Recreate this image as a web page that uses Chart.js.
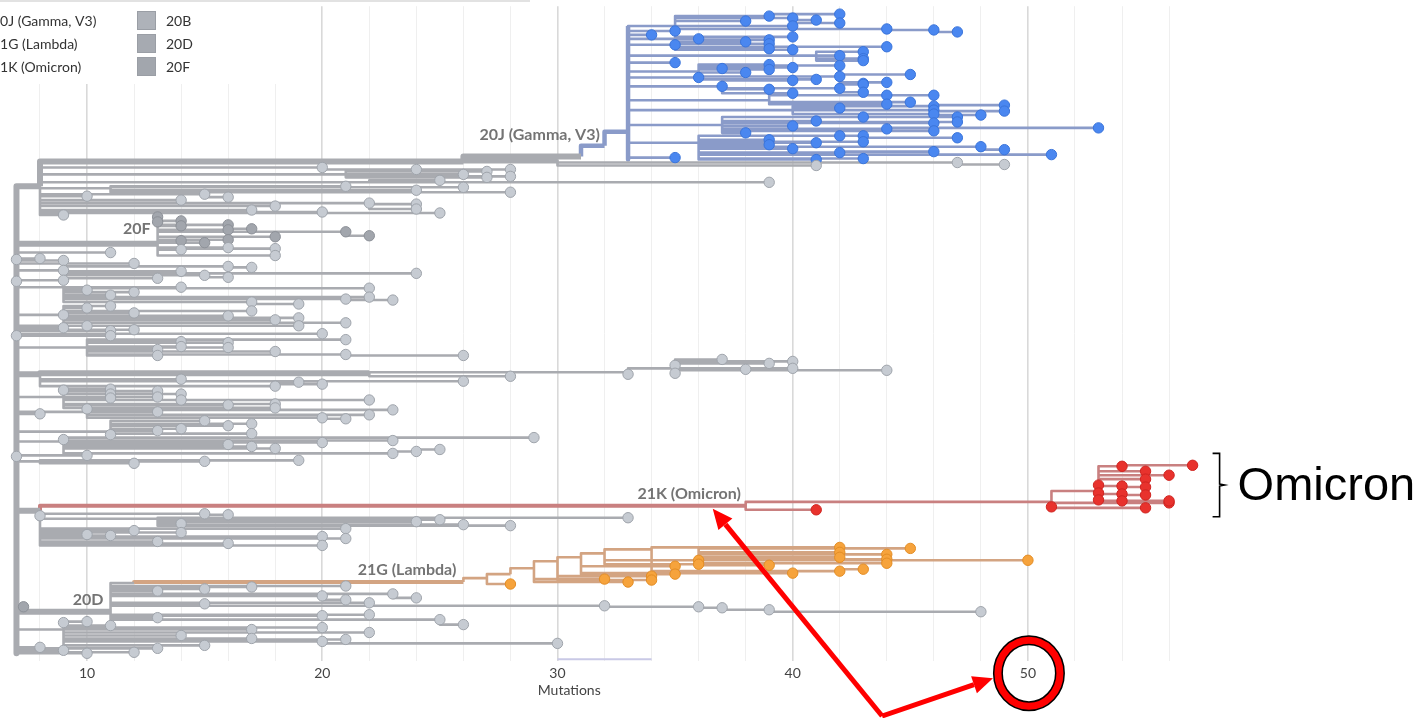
<!DOCTYPE html>
<html>
<head>
<meta charset="utf-8">
<script src="https://cdn.jsdelivr.net/npm/chart.js@4.4.1/dist/chart.umd.min.js"></script>
<style>
  html, body { margin: 0; padding: 0; background: #fff; }
  #wrap { width: 1420px; height: 718px; position: relative; }
</style>
</head>
<body>
<div id="wrap"><canvas id="tree"></canvas></div>
<script>
// grid every 2 mutations, labels only on the tens
const gridTicks = [8, 10, 12, 14, 16, 18, 20, 22, 24, 26, 28, 30, 32, 34, 36, 38, 40, 42, 44, 46, 48, 50, 52, 54, 56];
const labelledTicks = [10, 20, 30, 40, 50];
const axisTitle = 'Mutations';

const legendLeft = ['20J (Gamma, V3)', '21G (Lambda)', '21K (Omicron)'];
const legendRight = ['20B', '20D', '20F'];

// edges: [from mutations, to mutations, row, parent row, is tip]
const grayTrunk = [
  [7, 7, 654, 182, 0], [7, 8, 182, 182, 0], [8, 26, 157, 182, 0], [26, 30, 156, 157, 0],
  [26, 31, 152, 156, 0], [7, 13, 240, 182, 0], [7, 8, 372, 182, 0], [8, 22, 371, 372, 0],
  [7, 9, 612, 182, 0], [9, 11, 612, 612, 0], [7, 8, 510, 182, 0]
];

const grayEdges = [
  // top block
  [30, 41, 161, 156, 1], [30, 47, 158, 156, 1], [47, 49, 160, 158, 1],
  [8, 10, 163, 182, 0], [10, 20, 163, 163, 1], [20, 24, 165, 163, 1],
  [8, 21, 170, 182, 0], [21, 26, 170, 170, 1], [21, 27, 167, 170, 1], [21, 28, 165, 170, 1],
  [21, 27, 173, 170, 1], [21, 28, 172, 170, 1],
  [8, 22, 178, 182, 0], [22, 25, 176, 178, 1], [22, 39, 178, 178, 1],
  [8, 11, 184, 182, 0], [11, 21, 182, 184, 1], [11, 24, 186, 184, 1], [11, 26, 183, 184, 1], [11, 28, 188, 184, 1],
  [8, 10, 192, 182, 1], [8, 15, 190, 182, 1], [15, 16, 193, 190, 1], [8, 14, 196, 182, 1],
  [8, 22, 199, 182, 1], [22, 24, 200, 199, 1], [22, 24, 205, 199, 1],
  [8, 18, 202, 182, 1], [8, 17, 206, 182, 1], [8, 20, 208, 182, 1], [8, 25, 209, 182, 1], [8, 9, 211, 182, 1],
  [13, 14, 246, 240, 1], [13, 16, 244, 240, 1], [13, 18, 245, 240, 1], [13, 18, 252, 240, 1],
  // block under 20F
  [7, 7, 256, 182, 1], [7, 8, 255, 182, 1], [7, 9, 257, 182, 1], [7, 11, 249, 182, 1], [7, 12, 260, 182, 1],
  [7, 9, 267, 182, 1], [9, 14, 268, 267, 1], [9, 16, 263, 267, 1], [16, 17, 264, 263, 1],
  [9, 15, 272, 267, 1], [15, 16, 274, 272, 1], [9, 13, 275, 267, 1], [9, 24, 270, 267, 1],
  [7, 7, 278, 182, 1], [7, 9, 277, 182, 1],
  [7, 9, 284, 182, 0], [9, 14, 284, 284, 1], [9, 10, 287, 284, 1], [9, 12, 289, 284, 1], [9, 11, 292, 284, 1],
  [9, 22, 285, 284, 1], [9, 22, 294, 284, 1], [9, 21, 296, 284, 1], [21, 23, 297, 296, 1],
  [9, 17, 299, 284, 1], [17, 19, 301, 299, 1],
  [7, 9, 312, 182, 1], [9, 10, 305, 312, 1], [9, 11, 303, 312, 1], [9, 12, 310, 312, 1], [9, 16, 313, 312, 1],
  [9, 17, 308, 312, 1], [9, 18, 317, 312, 1], [9, 19, 315, 312, 1], [9, 21, 320, 312, 1], [9, 19, 323, 312, 1],
  [7, 9, 325, 182, 1], [7, 10, 323, 182, 1], [7, 12, 327, 182, 1], [7, 11, 328, 182, 1], [7, 11, 333, 182, 1],
  [7, 20, 331, 182, 1], [7, 7, 333, 182, 1],
  [7, 10, 345, 182, 0], [10, 14, 339, 345, 1], [10, 14, 344, 345, 1], [10, 16, 340, 345, 1], [10, 16, 345, 345, 1],
  [10, 21, 337, 345, 1], [10, 13, 347, 345, 1], [10, 13, 353, 345, 1], [10, 18, 349, 345, 1],
  [10, 21, 352, 345, 1], [21, 26, 353, 352, 1],
  // long branch reaching 44
  [22, 28, 374, 371, 1], [22, 33, 370, 371, 0], [33, 33, 372, 370, 1], [33, 35, 366, 370, 0],
  [35, 35, 363, 366, 1], [35, 35, 371, 366, 1], [35, 37, 357, 366, 1], [35, 40, 359, 366, 1],
  [35, 39, 361, 366, 1], [35, 40, 366, 366, 1], [35, 38, 367, 366, 1], [35, 44, 368, 366, 1],
  [8, 14, 377, 372, 1], [8, 26, 379, 372, 1], [8, 18, 384, 372, 1], [18, 19, 380, 384, 1], [18, 20, 382, 384, 1],
  // middle block
  [7, 9, 395, 182, 0], [9, 9, 388, 395, 1], [9, 11, 387, 395, 1], [9, 11, 392, 395, 1], [9, 11, 396, 395, 1],
  [9, 13, 389, 395, 1], [9, 13, 395, 395, 1], [9, 14, 392, 395, 1], [9, 14, 398, 395, 1], [9, 22, 398, 395, 1],
  [9, 16, 403, 395, 1], [9, 18, 402, 395, 1], [9, 18, 406, 395, 1],
  [7, 8, 412, 182, 1],
  [7, 10, 410, 182, 0], [10, 10, 407, 410, 1], [10, 13, 410, 410, 1], [10, 23, 408, 410, 1],
  [10, 20, 416, 410, 1], [20, 21, 417, 416, 1], [10, 22, 413, 410, 1],
  [7, 11, 430, 182, 0], [11, 15, 419, 430, 1], [11, 16, 424, 430, 1], [11, 17, 422, 430, 1], [11, 17, 432, 430, 1],
  [11, 11, 433, 430, 1], [11, 13, 429, 430, 1], [11, 14, 427, 430, 1],
  [7, 9, 440, 182, 0], [9, 9, 438, 440, 1], [9, 20, 441, 440, 1], [9, 23, 439, 440, 1], [9, 29, 436, 440, 1],
  [9, 16, 443, 440, 1], [9, 17, 445, 440, 1], [9, 18, 447, 440, 1],
  [9, 23, 452, 440, 1], [23, 24, 450, 452, 1], [24, 25, 448, 450, 1],
  [7, 7, 455, 182, 1], [7, 10, 454, 182, 1],
  [7, 8, 460, 182, 0], [8, 12, 462, 460, 1], [8, 15, 460, 460, 1], [8, 19, 459, 460, 1],
  // under the Omicron branch
  [8, 8, 515, 510, 1], [8, 15, 513, 510, 1], [15, 16, 514, 513, 1],
  [8, 13, 518, 510, 0], [13, 14, 523, 518, 1], [13, 24, 521, 518, 1], [13, 25, 519, 518, 1],
  [13, 26, 524, 518, 1], [13, 28, 525, 518, 1], [13, 33, 517, 518, 1],
  [8, 10, 534, 510, 1], [8, 11, 535, 510, 1], [8, 12, 530, 510, 1], [8, 14, 532, 510, 1],
  [8, 21, 528, 510, 1], [8, 21, 538, 510, 1], [8, 13, 541, 510, 1], [8, 16, 543, 510, 1],
  [8, 20, 536, 510, 1], [8, 20, 545, 510, 1],
  // 20D
  [11, 12, 583, 612, 0],
  [11, 13, 591, 612, 1], [11, 15, 589, 612, 1], [11, 17, 587, 612, 1], [11, 21, 586, 612, 1],
  [11, 20, 596, 612, 1], [20, 21, 600, 596, 1], [11, 23, 594, 612, 1], [23, 24, 598, 594, 1], [11, 22, 603, 612, 1],
  [11, 15, 604, 612, 1],
  [11, 32, 606, 612, 1], [32, 36, 607, 606, 1], [36, 37, 608, 607, 1], [37, 39, 610, 608, 1], [39, 48, 612, 610, 1],
  [11, 13, 618, 612, 1], [11, 20, 616, 612, 1], [11, 22, 615, 612, 1], [11, 25, 620, 612, 1], [25, 26, 625, 620, 1],
  // bottom block
  [7, 9, 630, 182, 0], [9, 9, 623, 630, 1], [9, 10, 622, 630, 1], [9, 11, 626, 630, 1],
  [9, 17, 630, 630, 1], [9, 20, 628, 630, 1], [9, 14, 636, 630, 1], [9, 17, 639, 630, 1], [9, 21, 640, 630, 1],
  [9, 22, 633, 630, 1], [9, 20, 642, 630, 1], [20, 30, 644, 642, 1], [9, 15, 646, 630, 1],
  [7, 8, 648, 182, 1], [7, 9, 651, 182, 1], [7, 10, 654, 182, 1], [7, 12, 653, 182, 1], [7, 13, 649, 182, 1]
];

const darkEdges = [
  [13, 13, 213, 240, 1], [13, 13, 218, 240, 1], [13, 14, 217, 240, 1], [13, 14, 222, 240, 1],
  [13, 16, 221, 240, 1], [13, 16, 226, 240, 1], [16, 17, 225, 226, 1], [13, 21, 228, 240, 1],
  [21, 22, 232, 228, 1], [13, 18, 233, 240, 1], [13, 14, 237, 240, 1], [13, 15, 239, 240, 1],
  [13, 16, 236, 240, 1], [7, 7.3, 607, 182, 1]
];

const gammaTrunk = [
  [31, 32, 141, 152, 0], [32, 33, 127, 141, 0], [33, 33, 20, 127, 0], [33, 33, 155, 127, 0]
];

const gammaEdges = [
  [33, 35, 20, 127, 0], [35, 39, 10, 20, 1], [39, 42, 8, 10, 1], [35, 38, 15, 20, 1], [35, 40, 12, 20, 1],
  [40, 41, 14, 12, 1], [40, 42, 17, 12, 1], [35, 40, 20, 20, 1], [35, 44, 23, 20, 1], [44, 46, 24, 23, 1], [46, 47, 26, 24, 1],
  [33, 34, 29, 127, 1], [33, 35, 25, 127, 1], [33, 35, 39, 127, 1],
  [33, 35, 33, 127, 0], [35, 36, 33, 33, 1], [35, 38, 36, 33, 1], [36, 39, 34, 33, 1], [35, 39, 38, 33, 1],
  [35, 39, 43, 33, 1], [35, 40, 31, 33, 1], [35, 40, 44, 33, 1], [35, 44, 41, 33, 1],
  [33, 41, 50, 127, 0], [41, 42, 50, 50, 1], [41, 43, 46, 50, 1], [41, 43, 53, 50, 1], [41, 43, 55, 50, 1],
  [33, 35, 57, 127, 1],
  [33, 36, 66, 127, 0], [36, 37, 63, 66, 1], [36, 38, 67, 66, 1], [36, 39, 59, 66, 1], [36, 39, 64, 66, 1],
  [36, 40, 62, 66, 1], [36, 42, 60, 66, 1], [42, 45, 69, 60, 1],
  [33, 36, 72, 127, 1], [36, 41, 74, 72, 1], [36, 42, 71, 72, 1], [42, 43, 78, 71, 1], [42, 44, 77, 71, 1],
  [33, 37, 81, 127, 1], [37, 39, 84, 81, 1], [37, 40, 88, 81, 1], [37, 40, 75, 81, 1], [37, 42, 83, 81, 1],
  [42, 43, 79, 83, 1], [42, 43, 87, 83, 1],
  [33, 39, 95, 127, 0], [39, 44, 90, 95, 1], [44, 46, 90, 90, 1], [39, 45, 97, 95, 1], [39, 44, 99, 95, 1],
  [33, 40, 105, 127, 0], [40, 42, 103, 105, 1], [40, 46, 101, 105, 1], [46, 49, 100, 101, 1], [40, 46, 105, 105, 1],
  [46, 49, 106, 105, 1], [40, 46, 109, 105, 1], [46, 48, 110, 109, 1],
  [33, 37, 120, 127, 0], [37, 43, 112, 120, 1], [43, 47, 112, 112, 1], [37, 41, 116, 120, 1], [37, 47, 117, 120, 1],
  [37, 38, 128, 120, 1], [37, 40, 121, 120, 1], [37, 44, 124, 120, 1], [37, 46, 118, 120, 1], [37, 46, 126, 120, 1],
  [44, 53, 123, 124, 1],
  [33, 36, 138, 127, 0], [36, 39, 135, 138, 1], [36, 39, 140, 138, 1], [36, 41, 138, 138, 1], [36, 42, 131, 138, 1],
  [42, 43, 131, 131, 1], [36, 43, 137, 138, 1], [43, 47, 133, 137, 1], [36, 40, 144, 138, 1], [36, 42, 148, 138, 1],
  [42, 46, 147, 148, 1], [36, 48, 142, 138, 1], [48, 49, 145, 142, 1], [36, 51, 150, 138, 1], [36, 41, 155, 138, 1],
  [36, 43, 154, 138, 1], [33, 35, 153, 127, 1]
];

const lambdaTrunk = [
  [12, 26, 582, 583, 0]
];

const lambdaEdges = [
  [26, 27, 578, 582, 0], [27, 28, 574, 578, 0], [28, 29, 568, 574, 0], [29, 30, 561, 568, 0],
  [30, 31, 557, 561, 0], [31, 32, 553, 557, 0], [32, 34, 549, 553, 0], [34, 36, 547, 549, 0],
  [27, 28, 584, 578, 1], [29, 32, 579, 568, 1], [29, 33, 582, 568, 1], [30, 34, 576, 561, 1], [30, 34, 580, 561, 1],
  [31, 35, 566, 557, 1], [31, 35, 574, 557, 1], [31, 40, 573, 557, 1],
  [32, 36, 560, 553, 1], [32, 36, 564, 553, 1], [36, 39, 565, 564, 1],
  [34, 42, 571, 549, 1], [42, 43, 569, 571, 1],
  [36, 42, 547, 547, 1], [36, 45, 548, 547, 1], [36, 42, 552, 547, 1], [36, 44, 554, 547, 1],
  [36, 42, 557, 547, 1], [36, 44, 559, 547, 1], [36, 50, 560, 547, 1], [36, 44, 563, 547, 1]
];

const omicronTrunk = [
  [8, 38, 505, 510, 0]
];

const omicronEdges = [
  [38, 41, 509, 505, 1], [38, 51, 501, 505, 0], [51, 51, 506, 501, 1],
  [51, 53, 490, 501, 0], [51, 55, 507, 501, 1], [51, 56, 502, 501, 1],
  [53, 53, 484, 490, 1], [53, 53, 492, 490, 1], [53, 53, 499, 490, 1],
  [53, 54, 465, 490, 1], [54, 57, 464, 465, 1],
  [53, 55, 470, 490, 1], [53, 55, 478, 490, 1], [53, 56, 474, 490, 1],
  [53, 54, 485, 490, 1], [54, 55, 486, 485, 1], [53, 54, 493, 490, 1], [54, 55, 494, 493, 1],
  [53, 54, 500, 490, 1], [53, 56, 500, 490, 1]
];

const cladeLabels = [
  {text: '20J (Gamma, V3)', x: 31.8, y: 130},
  {text: '20F', x: 12.7, y: 225},
  {text: '20D', x: 10.7, y: 600},
  {text: '21G (Lambda)', x: 25.7, y: 570},
  {text: '21K (Omicron)', x: 37.8, y: 493}
];

function branchPoints(edges) {
  const pts = [];
  edges.forEach(([x0, x1, row, parentRow]) => {
    pts.push({x: x0, y: parentRow}, {x: x0, y: row}, {x: x1, y: row}, {x: x1, y: null});
  });
  return pts;
}

function tipPoints(edges) {
  return edges.filter(e => e[4]).map(([x0, x1, row]) => ({x: x1, y: row}));
}

function branchSet(edges, color, width) {
  return {
    type: 'line', data: branchPoints(edges), borderColor: color, borderWidth: width,
    pointRadius: 0, spanGaps: false, tension: 0, borderJoinStyle: 'round', order: 5
  };
}

function tipSet(edges, fill, stroke) {
  return {
    type: 'line', data: tipPoints(edges), showLine: false, pointRadius: 5.2,
    backgroundColor: fill, borderColor: stroke, pointBorderWidth: 1, order: 0
  };
}

const GRAY = '#a9abb0';

const overlay = {
  id: 'overlay',
  afterDraw(chart) {
    const {ctx, scales: {x, y}} = chart;
    ctx.save();

    // legend box (left column pushed past the edge)
    ctx.fillStyle = '#fff';
    ctx.fillRect(0, 0, 300, 84);
    ctx.strokeStyle = '#e2e2e2';
    ctx.lineWidth = 2;
    ctx.beginPath(); ctx.moveTo(0, 1); ctx.lineTo(530, 1); ctx.stroke();
    ctx.font = '14px Lato';
    ctx.textBaseline = 'middle';
    ctx.fillStyle = '#333';
    legendLeft.forEach((t, i) => ctx.fillText(t, -8, 21 + i * 23));
    const sq = ['#aeb2b9', '#a6aab1', '#a2a6ad'];
    legendRight.forEach((t, i) => {
      ctx.fillStyle = sq[i];
      ctx.fillRect(137, 11 + i * 23, 19, 19);
      ctx.strokeStyle = '#9a9ea5';
      ctx.lineWidth = 1;
      ctx.strokeRect(137.5, 11.5 + i * 23, 18, 18);
      ctx.fillStyle = '#333';
      ctx.fillText(t, 166, 21 + i * 23);
    });

    // axis title, centred under the 30 mark as in the original
    ctx.font = '14px Lato';
    ctx.fillStyle = '#444';
    ctx.textAlign = 'center';
    ctx.fillText(axisTitle, x.getPixelForValue(30.5), x.bottom + 4);

    // clade labels
    ctx.font = 'bold 16px Lato';
    ctx.fillStyle = '#747474';
    ctx.textAlign = 'right';
    cladeLabels.forEach(l => ctx.fillText(l.text, x.getPixelForValue(l.x), y.getPixelForValue(l.y)));

    // bracket + "Omicron"
    const bx = x.getPixelForValue(57) + 27;
    const bt = y.getPixelForValue(452), bb = y.getPixelForValue(516), bm = (bt + bb) / 2;
    ctx.strokeStyle = '#000';
    ctx.lineWidth = 1.6;
    ctx.beginPath();
    ctx.moveTo(bx - 7, bt); ctx.lineTo(bx, bt); ctx.lineTo(bx, bm - 1); ctx.lineTo(bx + 5, bm);
    ctx.lineTo(bx, bm + 1); ctx.lineTo(bx, bb); ctx.lineTo(bx - 7, bb);
    ctx.stroke();
    ctx.font = '47px "Liberation Sans"';
    ctx.fillStyle = '#000';
    ctx.textAlign = 'left';
    ctx.fillText('Omicron', bx + 18, bm + 2);

    // lavender strip under the axis
    ctx.strokeStyle = '#c9c9e6';
    ctx.lineWidth = 2;
    ctx.beginPath();
    ctx.moveTo(x.getPixelForValue(30), chart.chartArea.bottom - 2);
    ctx.lineTo(x.getPixelForValue(34), chart.chartArea.bottom - 2);
    ctx.stroke();

    // ring around the 50 tick
    const cx = x.getPixelForValue(50) + 1, cy = x.top + 12;
    ctx.lineWidth = 10; ctx.strokeStyle = '#000';
    ctx.beginPath(); ctx.ellipse(cx, cy, 31, 33, 0, 0, Math.PI * 2); ctx.stroke();
    ctx.lineWidth = 7; ctx.strokeStyle = '#f00';
    ctx.beginPath(); ctx.ellipse(cx, cy, 31, 33, 0, 0, Math.PI * 2); ctx.stroke();

    // arrows
    const base = {x: x.getPixelForValue(43.8), y: 716};
    const arrow = (tx, ty) => {
      const ang = Math.atan2(ty - base.y, tx - base.x);
      const hl = 20, hw = 9;
      const sx = tx - hl * Math.cos(ang), sy = ty - hl * Math.sin(ang);
      ctx.strokeStyle = '#f00'; ctx.lineWidth = 5; ctx.lineCap = 'butt';
      ctx.beginPath(); ctx.moveTo(base.x, base.y); ctx.lineTo(sx, sy); ctx.stroke();
      ctx.fillStyle = '#f00';
      ctx.beginPath();
      ctx.moveTo(tx, ty);
      ctx.lineTo(sx + hw * Math.sin(ang), sy - hw * Math.cos(ang));
      ctx.lineTo(sx - hw * Math.sin(ang), sy + hw * Math.cos(ang));
      ctx.closePath(); ctx.fill();
    };
    arrow(x.getPixelForValue(36.6), y.getPixelForValue(508));
    arrow(cx - 36, cy + 5);

    ctx.restore();
  }
};

Chart.defaults.font.family = 'Lato';

new Chart(document.getElementById('tree').getContext('2d'), {
  type: 'line',
  data: {
    datasets: [
      branchSet(grayEdges, GRAY, 2.6),
      branchSet(darkEdges, GRAY, 2.6),
      branchSet(grayTrunk, GRAY, 6),
      branchSet(gammaEdges, '#8a9bc9', 2.6),
      branchSet(gammaTrunk, '#8a9bc9', 4.5),
      branchSet(lambdaEdges, '#d3a482', 2.6),
      branchSet(lambdaTrunk, '#d3a482', 4),
      branchSet(omicronEdges, '#c98080', 2.6),
      branchSet(omicronTrunk, '#c98080', 4),
      tipSet(grayEdges, '#c6cbd2', '#9fa4ab'),
      tipSet(darkEdges, '#a2a6ad', '#8c9097'),
      tipSet(gammaEdges, '#4a87f0', '#3a74da'),
      tipSet(lambdaEdges, '#f6a33c', '#e38d25'),
      tipSet(omicronEdges, '#e8322d', '#cf2420')
    ]
  },
  options: {
    responsive: true,
    maintainAspectRatio: false,
    animation: false,
    layout: {padding: {left: 8, right: 218, top: 0, bottom: 32}},
    plugins: {legend: {display: false}, tooltip: {enabled: false}},
    scales: {
      x: {
        type: 'linear', min: 6.64, max: 57.4,
        afterBuildTicks: s => { s.ticks = gridTicks.map(v => ({value: v})); },
        ticks: {
          autoSkip: false, maxRotation: 0, padding: 4, color: '#444', font: {size: 14},
          callback: v => labelledTicks.includes(v) ? String(v) : ''
        },
        grid: {
          drawTicks: false,
          color: c => (c.tick && labelledTicks.includes(c.tick.value)) ? '#d9d9d9' : '#efefef',
          lineWidth: c => (c.tick && labelledTicks.includes(c.tick.value)) ? 1.6 : 1
        },
        border: {display: false}
      },
      y: {type: 'linear', reverse: true, min: 0, max: 662, display: false}
    }
  },
  plugins: [overlay]
});
</script>
</body>
</html>
